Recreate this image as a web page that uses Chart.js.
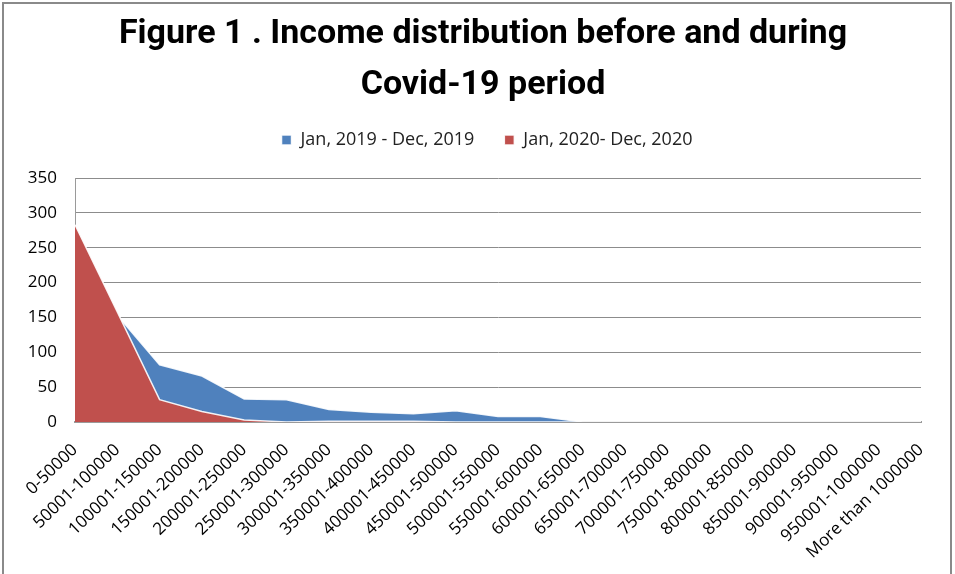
<!DOCTYPE html>
<html>
<head>
<meta charset="utf-8">
<script src="https://cdn.jsdelivr.net/npm/chart.js@4.4.1/dist/chart.umd.min.js"></script>
<style>
  html, body { margin: 0; padding: 0; background: #ffffff; }
  #caixa { position: relative; width: 955px; height: 574px; }
</style>
</head>
<body>
<div id="caixa"><canvas id="grafico" width="955" height="574"></canvas></div>
<script>
// dados:
const faixas = [
  "0-50000", "50001-100000", "100001-150000", "150001-200000", "200001-250000",
  "250001-300000", "300001-350000", "350001-400000", "400001-450000", "450001-500000",
  "500001-550000", "550001-600000", "600001-650000", "650001-700000", "700001-750000",
  "750001-800000", "800001-850000", "850001-900000", "900001-950000", "950001-1000000",
  "More than 1000000",
];
const serie2019 = [250, 153, 82, 66, 33, 32, 18, 14, 12, 16, 8, 8, 0, 0, 0, 0, 0, 0, 0, 0, 0];
const serie2020 = [283, 158, 32, 15, 3, 0, 1, 1, 1, 0, 0, 0, 0, 0, 0, 0, 0, 0, 0, 0, 0];
const ticksY = [0, 50, 100, 150, 200, 250, 300, 350];

// moldura cinza em volta da figura + ajustes de layout
const moldura = {
  id: "moldura",
  beforeLayout(chart) {
    // espaço extra abaixo da legenda
    const legenda = chart.legend;
    if (legenda && !legenda._esticada) {
      const fitOriginal = legenda.fit;
      legenda.fit = function () {
        fitOriginal.call(this);
        this.height += 19;
      };
      legenda._esticada = true;
    }
  },
  afterLayout(chart) {
    // título e legenda centralizados sobre a área do gráfico
    chart.titleBlock.left = 45;
    chart.titleBlock.right = chart.chartArea.right;
    chart.legend.left = 53;
    chart.legend.right = chart.chartArea.right;
  },
  afterDraw(chart) {
    const ctx = chart.ctx;
    ctx.save();
    ctx.strokeStyle = "#8a8a8a";
    ctx.lineWidth = 2;
    ctx.beginPath();
    ctx.moveTo(3, 580);
    ctx.lineTo(3, 3);
    ctx.lineTo(951, 3);
    ctx.lineTo(951, 580);
    ctx.stroke();
    ctx.restore();
  },
};

const config = {
  type: "line",
  data: {
    labels: faixas,
    datasets: [
      {
        label: "Jan, 2020- Dec, 2020",
        data: serie2020,
        backgroundColor: "#c0504d",
        borderColor: "rgba(255,255,255,0.9)",
        borderWidth: 1.5,
        fill: "origin",
        pointRadius: 0,
        tension: 0,
      },
      {
        label: "Jan, 2019 - Dec, 2019",
        data: serie2019,
        backgroundColor: "#4f81bd",
        borderColor: "rgba(255,255,255,0.9)",
        borderWidth: 1.5,
        fill: "origin",
        pointRadius: 0,
        tension: 0,
      },
    ],
  },
  options: {
    responsive: false,
    animation: false,
    layout: { padding: { left: 10, right: 34, top: 0, bottom: 0 } },
    plugins: {
      title: {
        display: true,
        text: ["Figure 1 . Income distribution before and during", "Covid-19 period"],
        color: "#000000",
        font: { family: "Roboto", weight: "bold", size: 34, lineHeight: 1.5 },
        padding: { top: 9, bottom: -10 },
      },
      legend: {
        reverse: true,
        labels: {
          boxWidth: 10,
          boxHeight: 10,
          color: "#222222",
          padding: 30,
          font: { family: "'Open Sans'", size: 18 },
        },
      },
      tooltip: { enabled: false },
    },
    scales: {
      x: {
        offset: false,
        grid: { display: false, drawTicks: false },
        border: { display: true, color: "#9a9a9a", width: 2 },
        ticks: {
          autoSkip: false,
          maxRotation: 44,
          minRotation: 44,
          padding: 18,
          color: "#000000",
          font: { family: "'Open Sans'", size: 17 },
        },
        afterFit(scale) {
          scale.height = 152;
          scale.paddingLeft = 0;
          scale.paddingRight = 0;
        },
      },
      y: {
        min: 0,
        max: 350,
        afterBuildTicks(scale) { scale.ticks = ticksY.map((v) => ({ value: v })); },
        grid: { color: "#8c8c8c", lineWidth: 1, drawTicks: false },
        border: { display: true, color: "#9a9a9a", width: 1 },
        ticks: {
          padding: 18,
          color: "#000000",
          font: { family: "'Open Sans'", size: 17 },
        },
        afterFit(scale) { scale.width = 65; },
      },
    },
  },
  plugins: [moldura],
};

new Chart(document.getElementById("grafico"), config);
</script>
</body>
</html>
